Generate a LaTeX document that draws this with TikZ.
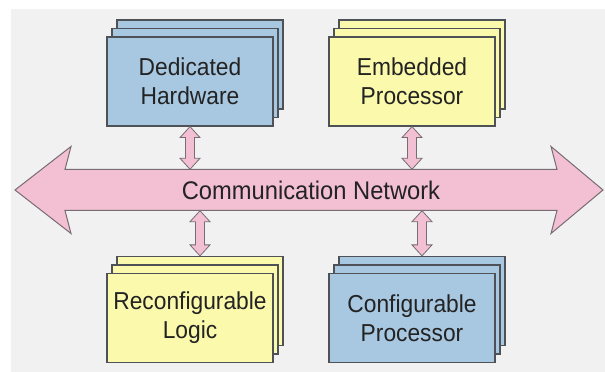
\documentclass[tikz,border=0pt]{standalone}
\usepackage{fontspec}
\setmainfont{Liberation Sans}[FakeStretch=0.93]
\usetikzlibrary{shadows,calc}

\definecolor{bggray}{RGB}{241,241,241}
\definecolor{blueblock}{RGB}{168,199,224}
\definecolor{yellowblock}{RGB}{251,249,172}
\definecolor{netpink}{RGB}{242,192,210}
\definecolor{boxedge}{RGB}{78,82,86}
\definecolor{arrowedge}{RGB}{118,108,114}
\definecolor{textgray}{RGB}{35,35,35}

% vertical fat double arrow between two points
\newcommand\linkarrow[2]{%
  \path[link] let \p1=(#1), \p2=(#2) in
    (\x1,\y1) -- (\x1-10pt,\y1-11pt) -- (\x1-4.5pt,\y1-11pt) -- (\x1-4.5pt,\y2+11pt)
    -- (\x1-10pt,\y2+11pt) -- (\x1,\y2) -- (\x1+10pt,\y2+11pt) -- (\x1+4.5pt,\y2+11pt)
    -- (\x1+4.5pt,\y1-11pt) -- (\x1+10pt,\y1-11pt) -- cycle;}

\begin{document}
\begin{tikzpicture}[x=1pt, y=1pt,
    block/.style={draw=boxedge, line width=1.2pt, minimum width=166pt, minimum height=89pt,
      inner sep=0pt, align=center, text=textgray, font=\fontsize{24.5}{29}\selectfont,
      copy shadow={shadow xshift=10pt, shadow yshift=17pt, fill=#1, draw=boxedge, line width=1.2pt},
      copy shadow={shadow xshift=5pt, shadow yshift=8.5pt, fill=#1, draw=boxedge, line width=1.2pt},
      fill=#1},
    network/.style={fill=netpink, draw=arrowedge, line width=1pt, line join=miter},
    link/.style={fill=netpink, draw=arrowedge, line width=0.8pt, line join=miter}]
  \useasboundingbox (0,0) rectangle (605,372);
  \fill[bggray] (11,0) rectangle (605,363);

  \node[block=blueblock] (dh) at (190,290.5) {Dedicated\\Hardware};
  \node[block=yellowblock] (ep) at (412,290.5) {Embedded\\Processor};
  \node[block=yellowblock] (rl) at (190,54) {Reconfigurable\\Logic};
  \node[block=blueblock] (cp) at (412,54) {Configurable\\Processor};

  % the bus
  \path[network] (15,182) -- (71,225.5) -- (65,202.5) -- (557,202.5) -- (551,225.5) -- (603,182)
    -- (551,138.5) -- (557,161.5) -- (65,161.5) -- (71,138.5) -- cycle;
  \node[minimum width=492pt, minimum height=41pt, inner sep=0pt, text=textgray,
    font=\fontsize{25.5}{29}\selectfont] (net) at (311,182) {Communication Network};

  \coordinate (rltop) at ($(rl.north)+(10,17)$);
  \coordinate (cptop) at ($(cp.north)+(10,17)$);

  \linkarrow{dh.south}{dh.south |- net.north}
  \linkarrow{ep.south}{ep.south |- net.north}
  \linkarrow{net.south -| rltop}{rltop}
  \linkarrow{net.south -| cptop}{cptop}
\end{tikzpicture}
\end{document}
